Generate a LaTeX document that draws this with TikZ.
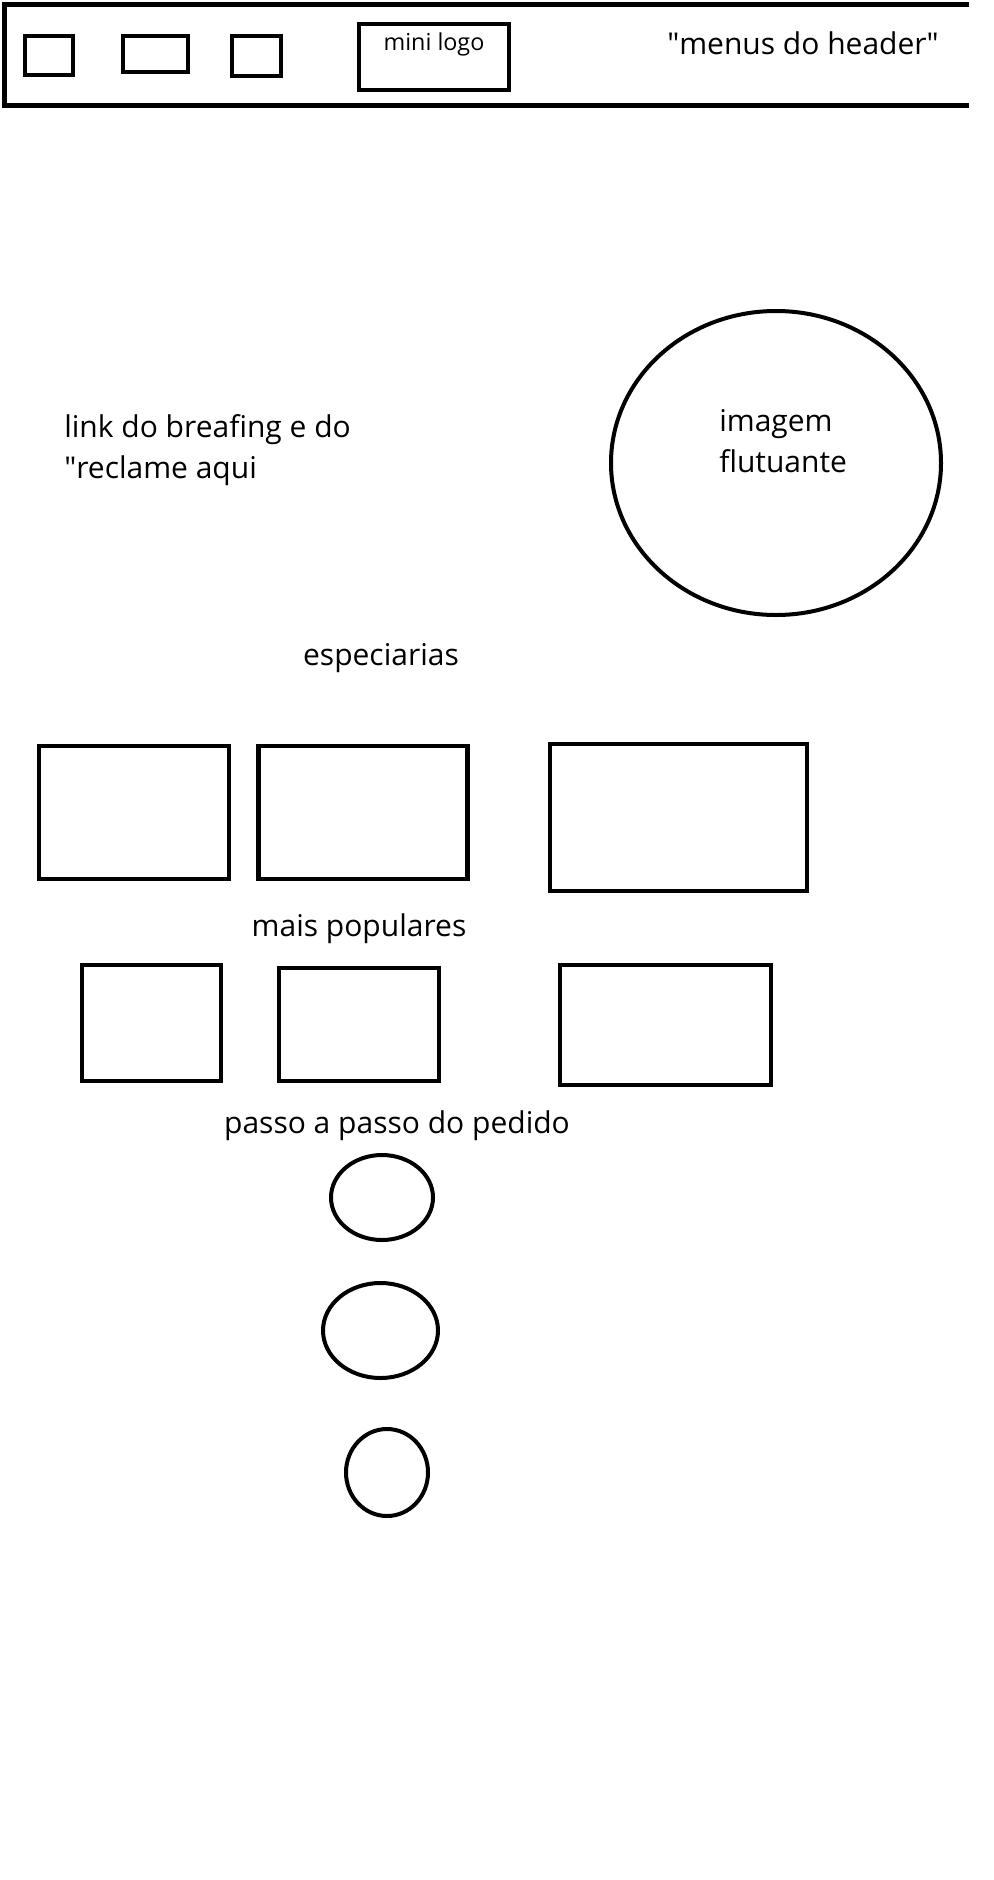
\documentclass[tikz,border=0pt]{standalone}
\usepackage{fontspec}
\setmainfont{Open Sans}
\usetikzlibrary{shapes.geometric}

\begin{document}
\begin{tikzpicture}[x=0.75pt,y=-0.75pt,
        caixa/.style 2 args={rectangle,draw,line width=3.3pt,inner sep=0pt,
            minimum width=#1*0.75pt,minimum height=#2*0.75pt},
        bola/.style 2 args={ellipse,draw,line width=3pt,inner sep=0pt,
            minimum width=#1*1.5pt,minimum height=#2*1.5pt},
        texto/.style={font=\fontsize{22.5}{31}\selectfont,inner sep=0pt}]
    \useasboundingbox (0,0) rectangle (994,1880);

    % Header
    \draw[line width=3.75pt] (969,5) -- (4,5) -- (4,106) -- (969,106);
    \node[caixa={48}{39}] (menu1) at (49,55.5) {};
    \node[caixa={65}{36}] (menu2) at (155.5,54) {};
    \node[caixa={49}{40}] (menu3) at (256.5,56) {};
    \node[caixa={150}{66}] (logo) at (434,57) {};
    \node[font=\fontsize{17.5}{21}\selectfont,inner sep=0pt] (logotxt) at (434,44) {mini logo};
    \node[texto] (menus) at (803,43) {\textquotedbl menus do header\textquotedbl};

    % Banner
    \node[texto,anchor=west,align=left] (links) at (64,450) {link do breafing e do\\\textquotedbl reclame aqui};
    \node[bola={165}{152}] (imagem) at (776,463) {};
    \node[texto,anchor=west,align=left] (imgtxt) at (719,441) {imagem\\flutuante};

    % Especiarias
    \node[texto] (especiarias) at (381,658) {especiarias};
    \node[caixa={190}{133}] (esp1) at (134,812.5) {};
    \node[caixa={209}{133}] (esp2) at (363,812.5) {};
    \node[caixa={257}{147}] (esp3) at (678.5,817.5) {};

    % Mais populares
    \node[texto] (populares) at (359,929) {mais populares};
    \node[caixa={139}{116}] (pop1) at (151.5,1023) {};
    \node[caixa={160}{113}] (pop2) at (359,1024.5) {};
    \node[caixa={211}{120}] (pop3) at (665.5,1025) {};

    % Passo a passo
    \node[texto] (passos) at (397,1126) {passo a passo do pedido};
    \node[bola={51}{42.5}] (passo1) at (382,1197.5) {};
    \node[bola={57.5}{47.5}] (passo2) at (380.5,1330.5) {};
    \node[bola={41}{43.5}] (passo3) at (387,1472.5) {};
\end{tikzpicture}
\end{document}
